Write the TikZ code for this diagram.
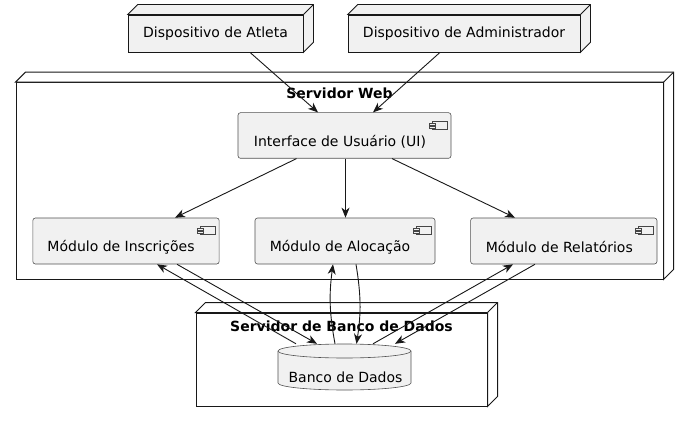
\documentclass[tikz,border=0pt]{standalone}
\usepackage{fontspec}
\setmainfont{DejaVu Sans}
\usetikzlibrary{arrows.meta,calc}
\definecolor{bgc}{HTML}{F1F1F1}
\definecolor{lnc}{HTML}{181818}
\newcommand\threed[2]{%
  \path[#2] (#1.north west) -- ++(10,-10) -- ($(#1.north east)+(10,-10)$) -- ($(#1.south east)+(10,-10)$) -- (#1.south east) -- (#1.north east) -- cycle;
  \draw[#2] (#1.north east) -- ++(10,-10);
}
\newcommand\compicon[1]{%
  \draw[iconln] ($(#1.north east)+(-19,9)$) rectangle ($(#1.north east)+(-4.5,17)$);
  \draw[iconln] ($(#1.north east)+(-22,10.5)$) rectangle ($(#1.north east)+(-16,12.5)$);
  \draw[iconln] ($(#1.north east)+(-22,13.5)$) rectangle ($(#1.north east)+(-16,15.5)$);
}
\begin{document}
\begin{tikzpicture}[x=1pt,y=-1pt,
  every node/.style={inner sep=0pt, font=\fontsize{14}{16}\selectfont},
  device/.style={draw=lnc, fill=bgc, line width=0.8pt},
  container/.style={draw=lnc, fill=white, line width=1pt},
  comp/.style={draw=lnc!75, fill=bgc, line width=0.6pt, rounded corners=2.5pt},
  ttl/.style={font=\fontsize{14}{16}\selectfont\bfseries},
  conn/.style={draw=lnc, line width=0.9pt, -{Stealth[length=10pt,width=8pt,inset=3pt]}},
  iconln/.style={draw=lnc!80, fill=bgc, line width=0.5pt},
  cyl/.style={draw=lnc!75, fill=bgc, line width=0.6pt}]
\useasboundingbox (0,0) rectangle (690,422);
% containers
\node[container, minimum width=647pt, minimum height=196.3pt] (web) at (339.5,180.85) {};
\threed{web}{container}
\node[ttl] (webT) at (339.5,93) {Servidor Web};
\node[container, minimum width=291pt, minimum height=93pt] (dbs) at (341.5,359.5) {};
\threed{dbs}{container}
\node[ttl] (dbsT) at (341.5,326) {Servidor de Banco de Dados};
% devices
\node[device, minimum width=175pt, minimum height=37pt] (atl) at (215.5,33.5) {Dispositivo de Atleta};
\threed{atl}{device}
\node[device, minimum width=232pt, minimum height=37pt] (adm) at (464,33.5) {Dispositivo de Administrador};
\threed{adm}{device}
% components
\node[comp, minimum width=213pt, minimum height=45.6pt] (ui) at (344.5,135.5) {};
\node (uiT) at ($(ui.center)+(-4.5,6)$) {Interface de Usuário (UI)};
\compicon{ui}
\node[comp, minimum width=186.3pt, minimum height=46pt] (ins) at (126,241) {};
\node (insT) at ($(ins.center)+(-5,6)$) {Módulo de Inscrições};
\compicon{ins}
\node[comp, minimum width=180pt, minimum height=46pt] (alo) at (345,241) {};
\node (aloT) at ($(alo.center)+(-5,6)$) {Módulo de Alocação};
\compicon{alo}
\node[comp, minimum width=186.3pt, minimum height=46pt] (rel) at (563.8,241) {};
\node (relT) at ($(rel.center)+(-4.5,6)$) {Módulo de Relatórios};
\compicon{rel}
% database cylinder
\path[cyl] (278,351) -- (278,383) arc[start angle=180, end angle=0, x radius=66.5, y radius=7]
  -- (411,351) arc[start angle=0, end angle=-180, x radius=66.5, y radius=7] -- cycle;
\draw[cyl, fill=none] (278,351) arc[start angle=180, end angle=0, x radius=66.5, y radius=7];
\node[minimum width=133pt, minimum height=46pt] (db) at (344.5,367) {};
\node (dbT) at (345.5,377) {Banco de Dados};
% connectors
\draw[conn] ([xshift=34.5pt]atl.south) -- ([xshift=-26.5pt]ui.north);
\draw[conn] ([xshift=-24pt]adm.south) -- ([xshift=28.5pt]ui.north);
\draw[conn] ([xshift=-48pt]ui.south) -- ([xshift=49pt]ins.north);
\draw[conn] ([xshift=1pt]ui.south) -- ([xshift=0.5pt]alo.north);
\draw[conn] ([xshift=47.5pt]ui.south) -- ([xshift=-48.8pt]rel.north);
\draw[conn] ([xshift=-48.5pt]db.north) -- ([xshift=31pt]ins.south);
\draw[conn] ([xshift=51pt]ins.south) -- ([xshift=-27.5pt]db.north);
\draw[conn] ([xshift=-9.5pt]db.north) to[bend left=9] ([xshift=-12pt]alo.south);
\draw[conn] ([xshift=11pt]alo.south) to[bend left=9] ([xshift=12pt]db.north);
\draw[conn] ([xshift=28.5pt]db.north) -- ([xshift=-50.8pt]rel.south);
\draw[conn] ([xshift=-28.8pt]rel.south) -- ([xshift=50.5pt]db.north);
\end{tikzpicture}
\end{document}
